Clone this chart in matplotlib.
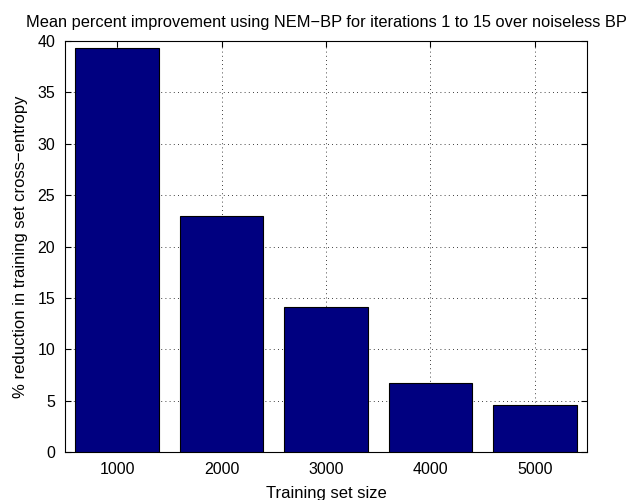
import matplotlib.pyplot as plt
import numpy as np

plt.rcParams['font.family'] = ['Liberation Sans', 'DejaVu Sans']

sizes = ['1000', '2000', '3000', '4000', '5000']
reduction = [39.3, 22.95, 14.15, 6.7, 4.55]
y_ticks = [0, 5, 10, 15, 20, 25, 30, 35, 40]

fig = plt.figure(figsize=(6.31, 5.0), dpi=100)
ax = fig.add_axes([65 / 631, 1 - 452 / 500, 522 / 631, 411 / 500])

x = np.arange(1, len(sizes) + 1)
ax.bar(x, reduction, width=0.8, color='#000080', edgecolor='black',
       linewidth=0.8, zorder=3)

ax.set_xlim(0.5, 5.5)
ax.set_ylim(0, 40)
ax.set_xticks(x)
ax.set_xticklabels(sizes)
ax.set_yticks(y_ticks)

ax.grid(True, color='black', linestyle=(0, (1, 4)), linewidth=0.6, zorder=0)
ax.tick_params(direction='in', top=True, right=True, length=4,
               labelsize=11.5, width=0.8, pad=7)
for s in ax.spines.values():
    s.set_linewidth(0.8)

ax.set_xlabel('Training set size', fontsize=12, labelpad=7)
ax.set_ylabel('% reduction in training set cross\u2212entropy', fontsize=12,
              labelpad=7)
ax.set_title('Mean percent improvement using NEM\u2212BP for iterations 1 to 15 '
             'over noiseless BP', fontsize=11.8, pad=10)

fig.savefig('out.png', dpi=100, facecolor='white')
